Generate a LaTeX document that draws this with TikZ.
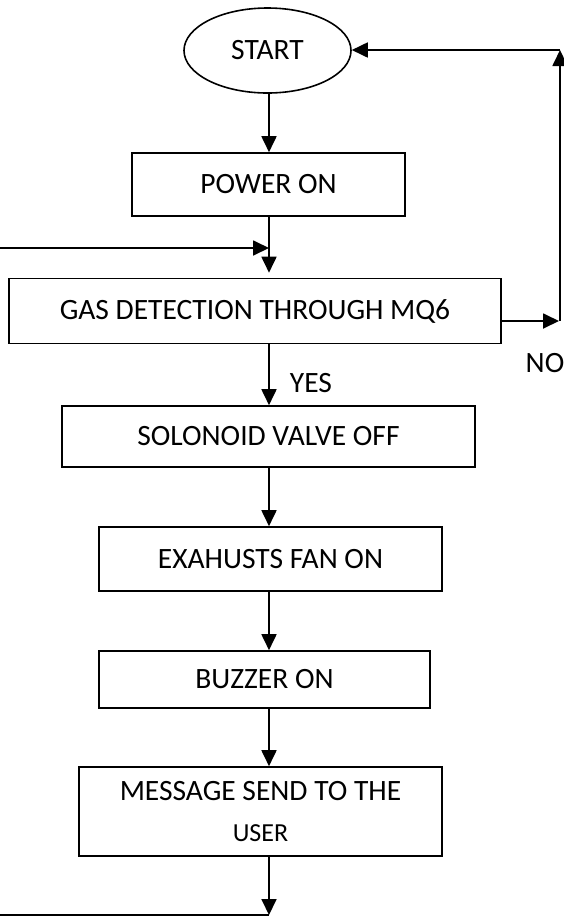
\documentclass[tikz,border=0pt]{standalone}
\usepackage{fontspec}
\setmainfont{Carlito}
\usetikzlibrary{arrows.meta,shapes.geometric}
\begin{document}
\begin{tikzpicture}[x=1pt,y=-1pt,
  every node/.style={font=\fontsize{29.5}{35}\selectfont, inner sep=0pt},
  procbox/.style={draw, line width=1.6pt, rectangle},
  arr/.style={line width=1.8pt, -{Triangle[length=16pt,width=15pt]}},
  plain/.style={line width=1.8pt}]
\useasboundingbox (0,0) rectangle (563,922);
\fill[white] (0,0) rectangle (563,922);

\node[draw, line width=1.6pt, ellipse, minimum width=167pt, minimum height=85pt] (start) at (267.5,50.5) {START};
\node[procbox, minimum width=273pt, minimum height=63pt] (power) at (268.5,184.5) {POWER ON};
\node[procbox, minimum width=492pt, minimum height=65pt] (gas) at (255,311) {GAS DETECTION THROUGH MQ6};
\node[procbox, minimum width=413pt, minimum height=61pt] (sol) at (268.5,436.5) {SOLONOID VALVE OFF};
\node[procbox, minimum width=343pt, minimum height=64pt] (fan) at (270.5,559) {EXAHUSTS FAN ON};
\node[procbox, minimum width=331pt, minimum height=57pt] (buz) at (264.5,679.5) {BUZZER ON};
\node[procbox, minimum width=363pt, minimum height=89pt, align=center] (msg) at (260.5,811.5)
  {MESSAGE SEND TO THE\\[6pt]{\fontsize{26}{30}\selectfont USER}};

\node (yes) at (311,383) {YES};
\node (no) at (545,363) {NO};

\coordinate (m0) at (269,0);
\coordinate (lin) at (0,248);
\coordinate (join) at (269,248);
\coordinate (noc) at (560,321);
\coordinate (topc) at (560,50);
\coordinate (botc) at (269,915);
\coordinate (bl) at (0,915);

\draw[arr] (start.south -| m0) -- (power.north -| m0);
\draw[plain] (power.south -| m0) -- (join);
\draw[arr] (lin) -- (join);
\draw[arr, shorten >=5pt] (join) -- (gas.north -| m0);
\draw[arr] (gas.south -| m0) -- (sol.north -| m0);
\draw[arr] (sol.south -| m0) -- (fan.north -| m0);
\draw[arr] (fan.south -| m0) -- (buz.north -| m0);
\draw[arr] (buz.south -| m0) -- (msg.north -| m0);
\draw[arr] (msg.south -| m0) -- (botc);
\draw[plain] (bl) -- (botc);

\draw[arr, shorten >=1pt] (gas.east |- noc) -- (noc);
\draw[arr] (noc) -- (topc);
\draw[arr] (topc) -- (start.east |- topc);
\end{tikzpicture}
\end{document}
